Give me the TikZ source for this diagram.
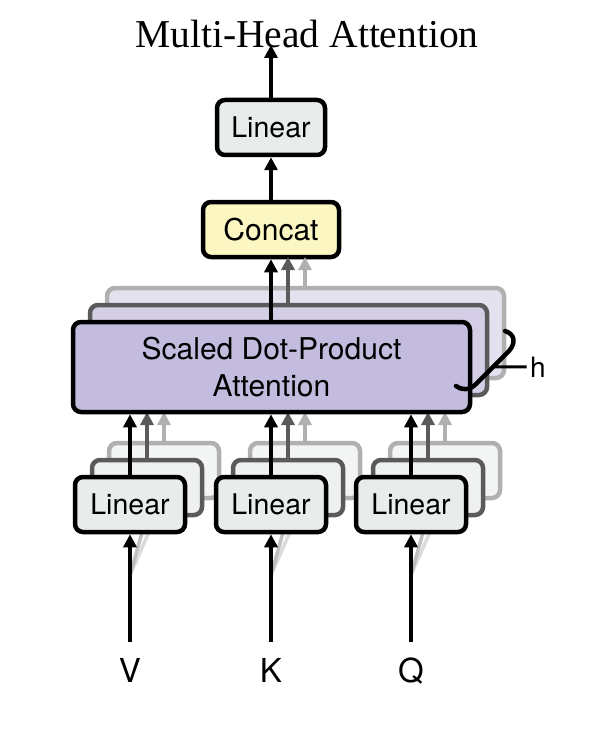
\documentclass[tikz,border=0pt]{standalone}
\usepackage{fontspec}
\setmainfont{Liberation Serif}
\newfontfamily\hv{TeX Gyre Heros}
\usetikzlibrary{arrows.meta}
\definecolor{linfill}{HTML}{E8EDEC}
\definecolor{catfill}{HTML}{FCF6C2}
\definecolor{sdpfill}{HTML}{C4BCDE}
\definecolor{sdpfillB}{HTML}{D3CDE6}
\definecolor{sdpfillC}{HTML}{E4E1EF}
\definecolor{linfillB}{HTML}{EEF1F0}
\definecolor{linfillC}{HTML}{F3F5F4}
\definecolor{grayB}{HTML}{5A5A5A}
\definecolor{grayC}{HTML}{B0B0B0}
\tikzset{
  box/.style={draw=black, line width=4.5pt, rounded corners=8pt, inner sep=0pt,
    font=\hv\fontsize{28.5}{32}\selectfont},
  linbox/.style={box, fill=linfill, minimum width=110pt, minimum height=55pt},
  linboxB/.style={box, draw=grayB, fill=linfillB, minimum width=110pt, minimum height=55pt},
  linboxC/.style={box, draw=grayC, fill=linfillC, minimum width=110pt, minimum height=55pt},
  sdpbox/.style={box, fill=sdpfill, minimum width=397pt, minimum height=90pt, align=center,
    font=\hv\fontsize{30}{37}\selectfont},
  sdpboxB/.style={box, draw=grayB, fill=sdpfillB, minimum width=397pt, minimum height=90pt},
  sdpboxC/.style={box, draw=grayC, fill=sdpfillC, minimum width=397pt, minimum height=90pt},
  arr/.style={line width=4pt, -{Triangle[length=13pt,width=13pt]}},
  arrB/.style={arr, draw=grayB},
  arrC/.style={arr, draw=grayC},
  shadowline/.style={line width=3.5pt, draw=grayC, opacity=0.8},
  lbl/.style={font=\hv\fontsize{33}{36}\selectfont, anchor=base},
}
\begin{document}
\begin{tikzpicture}[x=1pt,y=-1pt]
\useasboundingbox (0,0) rectangle (606,738);

% input coordinates
\coordinate (vin) at (130,642);
\coordinate (kin) at (271,642);
\coordinate (qin) at (411,642);

% shadow inputs to back linear layers
\foreach \x in {130,271,411}{
  \draw[shadowline] (\x,575) -- (\x+17,515);
  \draw[shadowline, opacity=0.45] (\x,575) -- (\x+34,498);
}

% back linear layers
\node[linboxC] (lvC) at (164,470.5) {};
\node[linboxC] (lkC) at (305,470.5) {};
\node[linboxC] (lqC) at (445,470.5) {};
\node[linboxB] (lvB) at (147,487.5) {};
\node[linboxB] (lkB) at (288,487.5) {};
\node[linboxB] (lqB) at (428,487.5) {};
% front linear
\node[linbox] (lv) at (130,504.5) {Linear};
\node[linbox] (lk) at (271,504.5) {Linear};
\node[linbox] (lq) at (411,504.5) {Linear};

% SDPA layers
\node[sdpboxC] (sdpC) at (305.5,333) {};
\node[sdpboxB] (sdpB) at (288.5,350) {};

% gray arrows from back linears to SDPA
\foreach \n in {lv,lk,lq}{
  \draw[arrC] (\n C.north) -- (\n C.north |- 0,412);
  \draw[arrB] (\n B.north) -- (\n B.north |- 0,412);
}

\node[sdpbox] (sdp) at (271.5,367) {Scaled Dot-Product\\Attention};

% front arrows linear -> SDPA
\draw[arr] (lv.north) -- (lv.north |- sdp.south);
\draw[arr] (lk.north) -- (lk.north |- sdp.south);
\draw[arr] (lq.north) -- (lq.north |- sdp.south);

% inputs
\draw[arr] (vin) -- (lv.south);
\draw[arr] (kin) -- (lk.south);
\draw[arr] (qin) -- (lq.south);
\node[lbl] (V) at (130,682) {V};
\node[lbl] (K) at (271,682) {K};
\node[lbl] (Q) at (411,682) {Q};

% concat and top linear
\node[box, fill=catfill, minimum width=136pt, minimum height=55pt, font=\hv\fontsize{30}{32}\selectfont] (cat) at (271,229.5) {Concat};
\node[linbox, minimum width=108pt] (top) at (271,127.5) {Linear};
\coordinate (out) at (271,45);

\draw[arrC] (305,287) -- (305,257);
\draw[arrB] (288,303) -- (288,257);
\draw[arr] (sdp.north -| cat.south) -- (cat.south);
\draw[arr] (cat.north) -- (top.south);
\draw[arr] (top.north) -- (out);

% brace and h
\draw[line width=4.5pt, line cap=round] (505,331) .. controls (515,334) and (516,343) .. (509,351) -- (476,384) .. controls (469,391) and (461,390) .. (456,386);
\coordinate (hb) at (492,367);
\node[font=\hv\fontsize{28}{30}\selectfont, anchor=base] (h) at (538,377) {h};
\draw[line width=3pt] (hb) -- (h.west);

% title
\node[font=\fontsize{39.5}{44}\selectfont, anchor=base] (title) at (307,48) {Multi-Head Attention};
\end{tikzpicture}
\end{document}
